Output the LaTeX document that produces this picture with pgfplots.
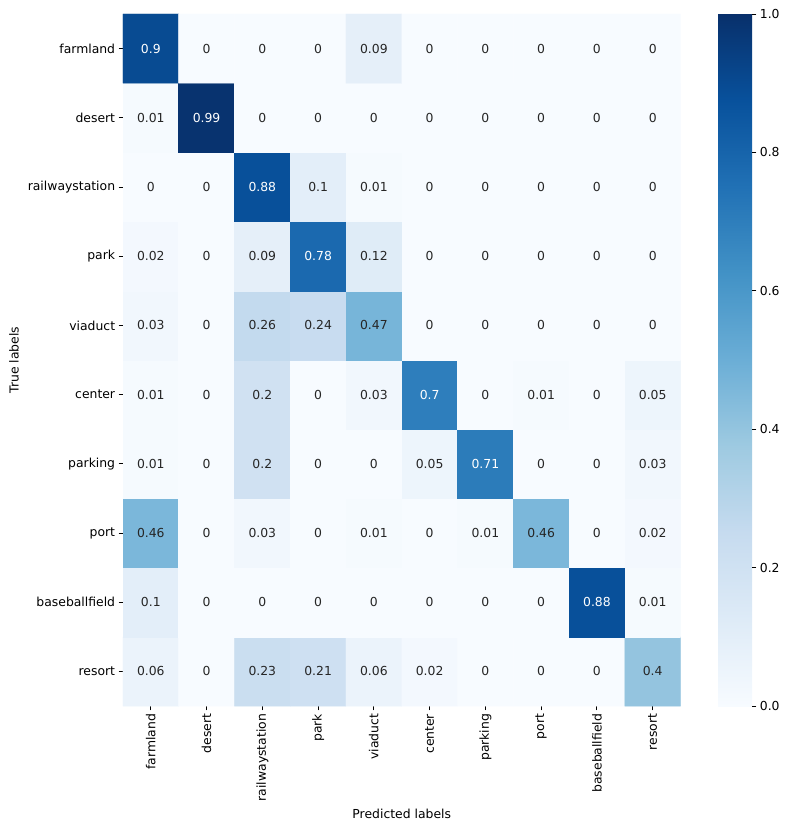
\documentclass[border=0pt]{standalone}
\usepackage{pgfplots}
\pgfplotsset{compat=1.18}
\usepackage{pgfplotstable}
\usepackage{fontspec}
\setmainfont{DejaVu Sans}
\definecolor{txtdark}{HTML}{262626}
\pgfplotsset{colormap={blues}{rgb255(0)=(247,251,255) rgb255(1)=(222,235,247) rgb255(2)=(198,219,239) rgb255(3)=(158,202,225) rgb255(4)=(107,174,214) rgb255(5)=(66,146,198) rgb255(6)=(33,113,181) rgb255(7)=(8,81,156) rgb255(8)=(8,48,107)}}
% c = predicted column, y = 9 - true row (resort at bottom)
\pgfplotstableread{
c y v
0 0 0.06
1 0 0
2 0 0.23
3 0 0.21
4 0 0.06
5 0 0.02
6 0 0
7 0 0
8 0 0
9 0 0.4
0 1 0.1
1 1 0
2 1 0
3 1 0
4 1 0
5 1 0
6 1 0
7 1 0
8 1 0.88
9 1 0.01
0 2 0.46
1 2 0
2 2 0.03
3 2 0
4 2 0.01
5 2 0
6 2 0.01
7 2 0.46
8 2 0
9 2 0.02
0 3 0.01
1 3 0
2 3 0.2
3 3 0
4 3 0
5 3 0.05
6 3 0.71
7 3 0
8 3 0
9 3 0.03
0 4 0.01
1 4 0
2 4 0.2
3 4 0
4 4 0.03
5 4 0.7
6 4 0
7 4 0.01
8 4 0
9 4 0.05
0 5 0.03
1 5 0
2 5 0.26
3 5 0.24
4 5 0.47
5 5 0
6 5 0
7 5 0
8 5 0
9 5 0
0 6 0.02
1 6 0
2 6 0.09
3 6 0.78
4 6 0.12
5 6 0
6 6 0
7 6 0
8 6 0
9 6 0
0 7 0
1 7 0
2 7 0.88
3 7 0.1
4 7 0.01
5 7 0
6 7 0
7 7 0
8 7 0
9 7 0
0 8 0.01
1 8 0.99
2 8 0
3 8 0
4 8 0
5 8 0
6 8 0
7 8 0
8 8 0
9 8 0
0 9 0.9
1 9 0
2 9 0
3 9 0
4 9 0.09
5 9 0
6 9 0
7 9 0
8 9 0
9 9 0
}\cm
\begin{document}
\begin{tikzpicture}
\useasboundingbox (-123pt,-124pt) rectangle (666pt,706.5pt);
\begin{axis}[
  at={(0,0)}, anchor=south west,
  scale only axis, width=558pt, height=692.5pt,
  colormap name=blues, point meta min=0, point meta max=1,
  xmin=-0.5, xmax=9.5, ymin=-0.5, ymax=9.5,
  axis lines*=left, axis line style={draw=none},
  tick align=outside, major tick length=4.3pt,
  tick style={black, line width=0.9pt},
  xtick={0,...,9}, ytick={0,...,9},
  xticklabels={farmland,desert,railwaystation,park,viaduct,center,parking,port,baseballfield,resort},
  yticklabels={resort,baseballfield,port,parking,center,viaduct,park,railwaystation,desert,farmland},
  xticklabel style={rotate=90, anchor=east, font=\fontsize{12.4}{14}\selectfont, text=black},
  yticklabel style={font=\fontsize{12.4}{14}\selectfont, text=black},
  xlabel={Predicted labels}, ylabel={True labels},
  xlabel style={at={(axis description cs:0.5,0)}, anchor=center, yshift=-108pt, font=\fontsize{12.4}{14}\selectfont},
  ylabel style={at={(axis description cs:0,0.5)}, anchor=center, rotate=0, yshift=109pt, font=\fontsize{12.4}{14}\selectfont},
  colorbar right,
  colorbar/width=34pt,
  colorbar style={
    at={(parent axis.north east)}, anchor=north west, xshift=29pt,
    scale only axis, height=692.5pt,
    ytick={0,0.2,0.4,0.6,0.8,1.0},
    ytick pos=right, yticklabel pos=right,
    tick align=outside, major tick length=4.3pt,
    tick style={black, line width=0.9pt},
    axis line style={draw=none},
    yticklabel style={font=\fontsize{12.4}{14}\selectfont, text=black,
      /pgf/number format/.cd, fixed, fixed zerofill, precision=1, assume math mode=true},
  },
]
\addplot[matrix plot*, mesh/cols=10, mesh/ordering=x varies, point meta=explicit] table[x=c, y=y, meta=v] {\cm};
\addplot[draw=none, mark=none, only marks, restrict expr to domain={\thisrow{v}}{0.5:2},
  point meta=explicit symbolic, nodes near coords,
  nodes near coords style={anchor=center, text=white, font=\fontsize{12.4}{14}\selectfont},
] table[x=c, y=y, meta=v] {\cm};
\addplot[draw=none, mark=none, only marks, restrict expr to domain={\thisrow{v}}{-1:0.5},
  point meta=explicit symbolic, nodes near coords,
  nodes near coords style={anchor=center, text=txtdark, font=\fontsize{12.4}{14}\selectfont},
] table[x=c, y=y, meta=v] {\cm};
\end{axis}
\end{tikzpicture}
\end{document}
